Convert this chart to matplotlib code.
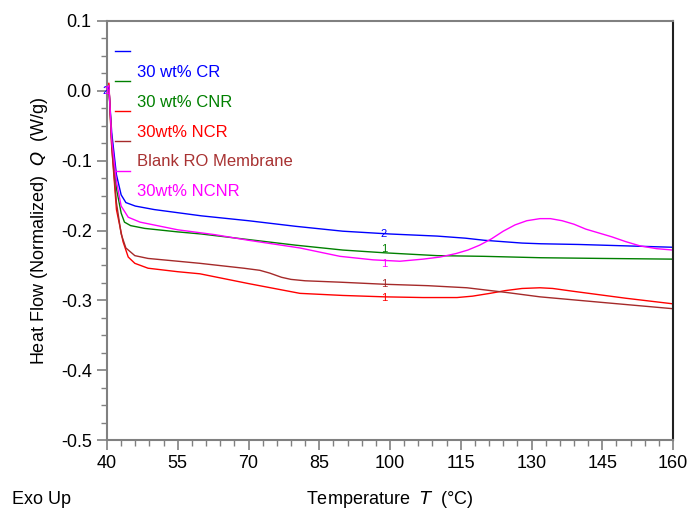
import matplotlib.pyplot as plt

plt.rcParams['font.family'] = ['Liberation Sans', 'DejaVu Sans']

# 30 wt% CR
t_cr = [40.0, 40.4, 41.0, 42.0, 43.0, 44.0, 46, 50, 60, 70, 80, 90, 100, 110, 116, 120, 124, 128, 132, 140, 150, 160]
q_cr = [0.0, 0.004, -0.06, -0.12, -0.149, -0.160, -0.165, -0.170, -0.179, -0.186, -0.194, -0.201,
        -0.205, -0.208, -0.211, -0.214, -0.216, -0.218, -0.219, -0.220, -0.222, -0.224]

# 30 wt% CNR
t_cnr = [40, 40.4, 41, 42, 43, 43.7, 45, 48, 55, 60, 70, 80, 90, 99, 110, 120, 132, 145, 160]
q_cnr = [0, 0.006, -0.07, -0.14, -0.175, -0.188, -0.193, -0.197, -0.202, -0.205, -0.213, -0.221,
         -0.228, -0.232, -0.236, -0.237, -0.239, -0.240, -0.241]

# 30wt% NCR
t_ncr = [40, 40.4, 41, 42, 43.4, 44.5, 45.9, 48.7, 55, 59.7, 70, 80.9, 90, 98.9, 107, 114.2, 117.5,
         121.2, 124.5, 128, 131.8, 134.5, 138.8, 150, 160]
q_ncr = [0, 0.011, -0.08, -0.17, -0.216, -0.238, -0.247, -0.254, -0.259, -0.262, -0.276, -0.290,
         -0.293, -0.295, -0.296, -0.296, -0.294, -0.290, -0.286, -0.283, -0.282, -0.283, -0.287,
         -0.297, -0.305]

# Blank RO Membrane
t_blank = [40, 40.4, 41, 42, 43, 44, 45.9, 48.7, 55, 59.7, 65, 69, 72.4, 74.5, 77, 79, 82, 89.4,
           98.9, 108, 116.3, 125, 131.8, 145, 160]
q_blank = [0, 0.008, -0.08, -0.16, -0.205, -0.225, -0.236, -0.240, -0.244, -0.247, -0.251, -0.254,
           -0.257, -0.261, -0.267, -0.270, -0.272, -0.274, -0.277, -0.279, -0.282, -0.289, -0.295,
           -0.303, -0.312]

# 30wt% NCNR
t_ncnr = [40, 40.4, 41, 42, 43, 44.5, 47, 55, 62.9, 70, 80.9, 89.4, 96.4, 102.1, 107, 110.6, 114,
          116.5, 119, 121.5, 124, 126.5, 129, 131.8, 134, 136.5, 139, 141.5, 144, 147, 150, 153,
          156.5, 160]
q_ncnr = [0, 0.008, -0.07, -0.13, -0.165, -0.181, -0.188, -0.199, -0.206, -0.214, -0.225, -0.237,
          -0.242, -0.244, -0.241, -0.238, -0.233, -0.228, -0.221, -0.212, -0.201, -0.192, -0.186,
          -0.183, -0.183, -0.186, -0.191, -0.198, -0.203, -0.209, -0.216, -0.222, -0.226, -0.228]

names = ['30 wt% CR', '30 wt% CNR', '30wt% NCR', 'Blank RO Membrane', '30wt% NCNR']
colors = ['#0000ff', '#008000', '#ff0000', '#a52a2a', '#ff00ff']
text_colors = ['#0000ff', '#008000', '#ff0000', '#a83232', '#ff00ff']
series = [(t_cr, q_cr), (t_cnr, q_cnr), (t_ncr, q_ncr), (t_blank, q_blank), (t_ncnr, q_ncnr)]

# cycle labels near T = 98.7
cycle_T = 98.7
cycle_labels = ['2', '1', '1', '1', '1']
cycle_dy = [0, 0.006, -0.002, 0, -0.005]

xticks = [40, 55, 70, 85, 100, 115, 130, 145, 160]
yticks = [0.1, 0.0, -0.1, -0.2, -0.3, -0.4, -0.5]
ytick_labels = ['0.1', '0.0', '-0.1', '-0.2', '-0.3', '-0.4', '-0.5']

fig = plt.figure(figsize=(6.89, 5.12), dpi=100)
ax = fig.add_axes([0.1553, 0.1406, 0.8215, 0.8184])

for (t, q), c in zip(series, colors):
    ax.plot(t, q, color=c, lw=1.0)

for (t, q), c, lab, dy in zip(series, colors, cycle_labels, cycle_dy):
    for i in range(len(t) - 1):
        if t[i] <= cycle_T <= t[i + 1]:
            f = (cycle_T - t[i]) / (t[i + 1] - t[i])
            y = q[i] + f * (q[i + 1] - q[i])
            break
    ax.text(cycle_T, y + dy, lab, color=c, fontsize=8, ha='center', va='center')

ax.text(39.7, 0.0, '2', color='#0000ff', fontsize=8, ha='center', va='center')
ax.text(39.9, 0.0, '1', color='#ff00ff', fontsize=8, ha='center', va='center')

# legend drawn as in the original export
for i, (name, c, tc) in enumerate(zip(names, colors, text_colors)):
    yl = 0.928 - i * 0.0715
    ax.plot([0.014, 0.041], [yl, yl], color=c, lw=1.0, transform=ax.transAxes)
    ax.text(0.053, yl - 0.05, name, color=tc, fontsize=12, transform=ax.transAxes,
            va='center', ha='left')

ax.set_xlim(40, 160)
ax.set_ylim(-0.5, 0.1)
ax.set_xticks(xticks)
ax.set_xticks([40 + 3 * k for k in range(41)], minor=True)
ax.set_yticks(yticks)
ax.set_yticklabels(ytick_labels)
ax.set_yticks([-0.5 + 0.025 * k for k in range(25)], minor=True)

ax.tick_params(which='major', length=7, width=1.2, color='#808080', labelsize=13, pad=4)
ax.tick_params(which='minor', length=4, width=1.0, color='#808080')
for s in ['left', 'bottom', 'top']:
    ax.spines[s].set_color('#808080')
    ax.spines[s].set_linewidth(1.5)
ax.spines['right'].set_color('#202020')
ax.spines['right'].set_linewidth(1.5)

ax.set_xlabel('Temperature  $\\mathit{T}$  (°C)', fontsize=13, labelpad=12)
ax.set_ylabel('Heat Flow (Normalized)  $\\mathit{Q}$  (W/g)', fontsize=13, labelpad=8)
fig.text(0.017, 0.025, 'Exo Up', fontsize=13, ha='left', va='center')

fig.savefig('out.png', dpi=100)
